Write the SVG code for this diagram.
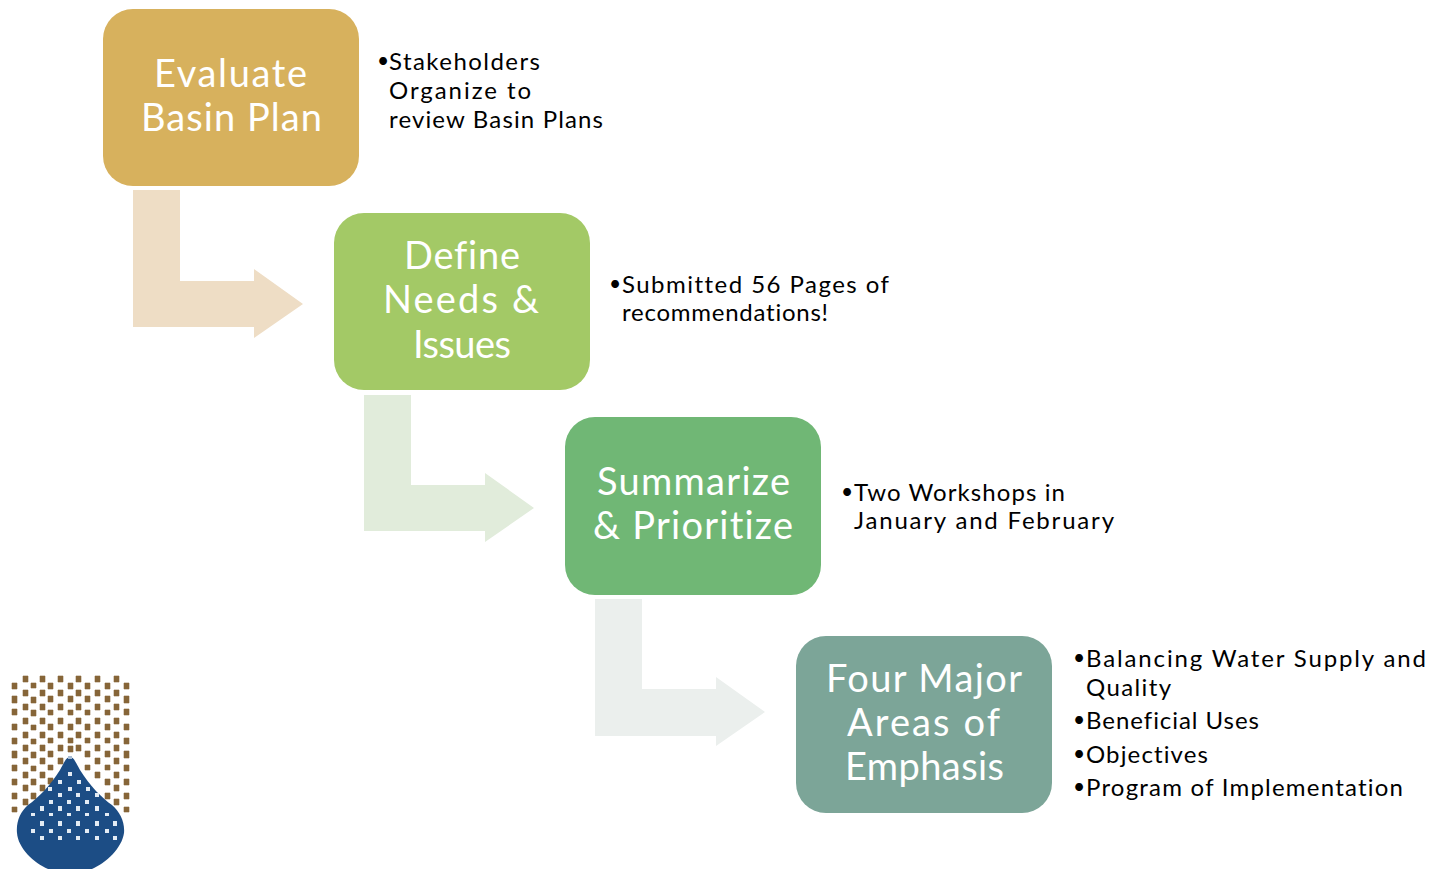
<svg xmlns="http://www.w3.org/2000/svg" width="1433" height="869" viewBox="0 0 1433 869">
<style>
text{font-family:"Lato","Open Sans",sans-serif;font-variant-ligatures:none}
.t{fill:#fff;font-size:38px}
.b{fill:#000;font-size:24px}
.d{font-size:21px}
.box{stroke:none}
</style>
<defs>
<filter id="soft" x="-5%" y="-5%" width="110%" height="110%"><feGaussianBlur stdDeviation="0.6"/></filter>
</defs>
<rect width="1433" height="869" fill="#fff"/>
<g id="connectors">
<path fill="#eeddc5" d="M133 190H180V281H254V269L303 304L254 338V327H133Z"/>
<path fill="#e1ecdb" d="M364 395H411V485H485V473L534 508L485 542V531H364Z"/>
<path fill="#ebefed" d="M595 599H642V689H716V677L765 712L716 746V736H595Z"/>
</g>
<g id="node-evaluate">
<rect class="box" x="103" y="9" width="256" height="177" rx="30" fill="#d7b15d"/>
<text class="t" x="154" y="87" textLength="153">Evaluate</text>
<text class="t" x="141" y="131" textLength="181">Basin Plan</text>
</g>
<g id="node-define">
<rect class="box" x="334" y="213" width="256" height="177" rx="30" fill="#a3c966"/>
<text class="t" x="404" y="269" textLength="116">Define</text>
<text class="t" x="383" y="313" textLength="156">Needs &amp;</text>
<text class="t" x="413" y="358" textLength="98">Issues</text>
</g>
<g id="node-summarize">
<rect class="box" x="565" y="417" width="256" height="178" rx="30" fill="#70b775"/>
<text class="t" x="597" y="495" textLength="193">Summarize</text>
<text class="t" x="593" y="539" textLength="200">&amp; Prioritize</text>
</g>
<g id="node-four">
<rect class="box" x="796" y="636" width="256" height="177" rx="30" fill="#7ca598"/>
<text class="t" x="826" y="692" textLength="196">Four Major</text>
<text class="t" x="847" y="736" textLength="153">Areas of</text>
<text class="t" x="845" y="780" textLength="159">Emphasis</text>
</g>
<g id="notes-evaluate">
<text class="b" y="70"><tspan class="d" x="377" dy="-2">•</tspan><tspan x="389" dy="2" textLength="151">Stakeholders</tspan></text>
<text class="b" x="389" y="99" textLength="142">Organize to</text>
<text class="b" x="389" y="128" textLength="214">review Basin Plans</text>
</g>
<g id="notes-define">
<text class="b" y="293"><tspan class="d" x="609" dy="-2">•</tspan><tspan x="622" dy="2" textLength="267">Submitted 56 Pages of</tspan></text>
<text class="b" x="622" y="321" textLength="206">recommendations!</text>
</g>
<g id="notes-summarize">
<text class="b" y="501"><tspan class="d" x="841" dy="-2">•</tspan><tspan x="854" dy="2" textLength="211">Two Workshops in</tspan></text>
<text class="b" x="854" y="529" textLength="260">January and February</text>
</g>
<g id="notes-four">
<text class="b" y="667"><tspan class="d" x="1073" dy="-2">•</tspan><tspan x="1086" dy="2" textLength="340">Balancing Water Supply and</tspan></text>
<text class="b" x="1086" y="696" textLength="85">Quality</text>
<text class="b" y="729"><tspan class="d" x="1073" dy="-2">•</tspan><tspan x="1086" dy="2" textLength="173">Beneficial Uses</tspan></text>
<text class="b" y="763"><tspan class="d" x="1073" dy="-2">•</tspan><tspan x="1086" dy="2" textLength="122">Objectives</tspan></text>
<text class="b" y="796"><tspan class="d" x="1073" dy="-2">•</tspan><tspan x="1086" dy="2" textLength="317">Program of Implementation</tspan></text>
</g>
<g id="logo" filter="url(#soft)">
<path fill="#866539" stroke="#866539" stroke-width="0.6" d="M12 683h5v6h-5zM12 696h5v7h-5zM12 709h5v6h-5zM12 724h5v6h-5zM12 738h5v6h-5zM12 751h5v7h-5zM12 765h5v6h-5zM12 779h5v6h-5zM12 793h5v6h-5zM12 807h5v5h-5zM23 676h5v6h-5zM23 690h5v6h-5zM23 704h5v6h-5zM23 718h5v6h-5zM23 732h5v6h-5zM23 745h5v6h-5zM23 758h5v6h-5zM23 772h5v6h-5zM23 785h5v6h-5zM23 799h5v6h-5zM31 683h5v5h-5zM31 697h5v6h-5zM31 710h5v6h-5zM31 725h5v5h-5zM31 739h5v5h-5zM31 752h5v6h-5zM31 766h5v5h-5zM31 779h5v6h-5zM31 793h5v6h-5zM40 676h5v6h-5zM40 690h5v6h-5zM40 704h5v6h-5zM40 718h5v6h-5zM40 732h5v6h-5zM40 745h5v6h-5zM40 758h5v6h-5zM40 772h5v6h-5zM40 785h5v6h-5zM48 683h5v6h-5zM48 696h5v6h-5zM48 710h5v5h-5zM48 724h5v6h-5zM48 738h5v5h-5zM48 751h5v6h-5zM48 765h5v5h-5zM48 778h5v6h-5zM58 676h5v6h-5zM58 690h5v6h-5zM58 704h5v6h-5zM58 718h5v6h-5zM58 732h5v6h-5zM58 745h5v6h-5zM58 758h5v6h-5zM68 683h5v6h-5zM68 696h5v6h-5zM68 710h5v5h-5zM68 724h5v6h-5zM68 738h5v5h-5zM68 746h5v6h-5zM76 676h5v6h-5zM76 690h5v6h-5zM76 704h5v6h-5zM76 718h5v6h-5zM76 732h5v6h-5zM76 745h5v6h-5zM85 683h5v6h-5zM85 696h5v6h-5zM85 710h5v5h-5zM85 724h5v6h-5zM85 738h5v5h-5zM85 751h5v6h-5zM85 765h5v5h-5zM95 676h5v6h-5zM95 690h5v6h-5zM95 704h5v6h-5zM95 718h5v6h-5zM95 732h5v6h-5zM95 745h5v6h-5zM95 758h5v6h-5zM95 772h5v6h-5zM105 683h5v6h-5zM105 696h5v6h-5zM105 710h5v5h-5zM105 724h5v6h-5zM105 738h5v5h-5zM105 751h5v6h-5zM105 765h5v5h-5zM105 779h5v6h-5zM105 793h5v6h-5zM114 676h5v6h-5zM114 690h5v6h-5zM114 704h5v6h-5zM114 718h5v6h-5zM114 732h5v6h-5zM114 745h5v6h-5zM114 758h5v6h-5zM114 772h5v6h-5zM114 785h5v6h-5zM114 799h5v6h-5zM124 683h5v6h-5zM124 696h5v7h-5zM124 709h5v6h-5zM124 724h5v6h-5zM124 738h5v6h-5zM124 751h5v7h-5zM124 765h5v6h-5zM124 779h5v6h-5zM124 793h5v6h-5zM124 807h5v5h-5z"/>
<path fill="#1f4e85" d="M70 757C74 757 76 763 80 770C90 786 102 798 112 805C120 812 125 822 124 833C122 848 106 863 92 869H48C34 863 18 848 17 833C16 822 20 812 28 805C38 798 50 786 60 770C64 763 66 757 70 757Z"/>
<path fill="#e4ecf4" d="M68 772h4v4h-4zM58 780h4v4h-4zM77 780h4v4h-4zM68 787h4v4h-4zM48 787h4v4h-4zM86 787h4v4h-4zM58 793h4v4h-4zM76 793h4v4h-4zM95 793h4v4h-4zM49 800h4v4h-4zM67 800h4v4h-4zM85 800h4v4h-4zM40 806h4v5h-4zM58 806h4v5h-4zM76 806h4v5h-4zM95 806h4v5h-4zM31 813h4v3h-4zM49 813h4v3h-4zM67 813h4v3h-4zM85 813h4v3h-4zM105 813h4v3h-4zM40 821h4v5h-4zM58 821h4v5h-4zM76 821h4v5h-4zM95 821h4v5h-4zM113 821h4v5h-4zM31 829h4v4h-4zM49 829h4v4h-4zM67 829h4v4h-4zM85 829h4v4h-4zM105 829h4v4h-4zM40 836h4v4h-4zM58 836h4v4h-4zM76 836h4v4h-4zM95 836h4v4h-4zM113 836h4v4h-4z"/>
<path fill="#a9bdd4" d="M68 756h4v3h-4z"/>
</g>
</svg>
